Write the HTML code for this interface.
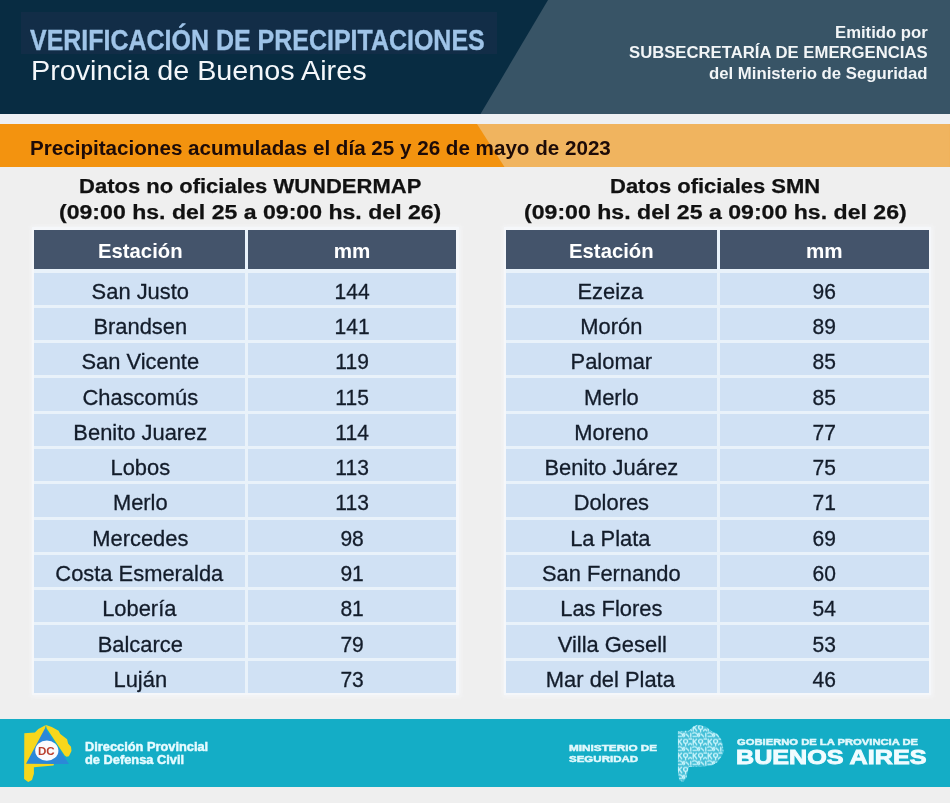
<!DOCTYPE html>
<html lang="es">
<head>
<meta charset="utf-8">
<title>Verificación de precipitaciones - Provincia de Buenos Aires</title>
<style>
html,body{margin:0;padding:0;background:#efefef;}
#page{position:relative;width:950px;height:803px;overflow:hidden;background:#efefef;font-family:'Liberation Sans',sans-serif;}
#page header,#page section,#page footer,#page div,#page svg,#page h2{position:absolute;margin:0;padding:0;}
.t{position:absolute;margin:0;padding:0;white-space:nowrap;line-height:1;font-weight:700;transform-origin:0 0;}
header{left:0;top:0;width:950px;height:114px;background:#082c42;}
header .hl{left:21px;top:12px;width:476px;height:42px;background:#122d47;}
.ttl{color:#9fc4e8;-webkit-text-stroke:0.35px #9fc4e8;}
.sub{color:#f4f7fa;font-weight:400;}
.em{color:#f2f5f7;}
.strip{left:0;top:114px;width:950px;height:9.6px;background:#eef0f3;}
.banner{left:0;top:123.6px;width:950px;height:43.8px;background:#f3930f;}
.ora{color:#1d0b08;}
.tbl h2{left:0;top:0;width:100%;height:56px;font-size:21.1px;}
.tt{color:#111;-webkit-text-stroke:0.25px #111;}
.halo{background:#f5f7fa;box-shadow:0 0 4px 1.5px #f4f5f7;}
.grid{left:0;width:100%;background:#e9f2fa;}
.row{left:0;width:100%;height:32.28px;}
.cell{top:0;height:100%;background:#d0e1f4;}
.head .cell{background:#44546b;}
.v{position:absolute;width:100%;text-align:center;white-space:nowrap;line-height:1;}
.s,.n{font-size:22.0px;color:#131c2a;-webkit-text-stroke:0.3px #131c2a;}
.s{transform:scaleX(0.995);}
.n{transform:scaleX(0.955);}
.h1,.h2{font-size:19.8px;font-weight:700;color:#fff;}
.h1{transform:scaleX(1.0253);}
.h2{transform:scaleX(1.0420);}
footer{left:0;top:719.3px;width:950px;height:67.8px;background:#14adc6;}
.f1{color:#e6fbff;-webkit-text-stroke:0.45px #e6fbff;}
.f3{color:#e0f8fc;-webkit-text-stroke:0.5px #e0f8fc;}
.f6{color:#f0fcff;-webkit-text-stroke:0.9px #f0fcff;}
.dc{color:#b93e2d;}
</style>
</head>
<body>
<div id="page">
<header>
<div class="hl"></div>
<svg style="left:0;top:0" width="950" height="114" viewBox="0 0 950 114"><polygon points="548,0 950,0 950,114 480.5,114" fill="#385466"/></svg>
<h1 class="t ttl" style="left:30.00px;top:25.10px;font-size:29.4px;transform:scaleX(0.8498)">VERIFICACIÓN DE PRECIPITACIONES</h1>
<p class="t sub" style="left:31.09px;top:56.50px;font-size:27.2px;transform:scaleX(1.0573)">Provincia de Buenos Aires</p>
<p class="t em" style="left:834.73px;top:24.70px;font-size:15.6px;transform:scaleX(1.0706)">Emitido por</p>
<p class="t em" style="left:628.60px;top:44.90px;font-size:15.6px;transform:scaleX(1.0704)">SUBSECRETARÍA DE EMERGENCIAS</p>
<p class="t em" style="left:709.40px;top:65.80px;font-size:15.6px;transform:scaleX(1.0734)">del Ministerio de Seguridad</p>
</header>
<div class="strip"></div>
<div class="banner">
<svg style="left:0;top:0" width="950" height="43.8" viewBox="0 0 950 43.8"><polygon points="477,0 950,0 950,43.8 505,43.8" fill="#f0b45f"/></svg>
<p class="t ora" style="left:29.68px;top:14.00px;font-size:20.3px;transform:scaleX(1.0162)">Precipitaciones acumuladas el día 25 y 26 de mayo de 2023</p>
</div>
<section class="tbl" id="tabla1" style="left:34px;top:172.0px;width:422.2px;height:522.5px">
<h2><span class="t tt" style="left:45.46px;top:2.50px;font-size:21.1px;transform:scaleX(1.0431)">Datos no oficiales WUNDERMAP</span><span class="t tt" style="left:25.41px;top:29.40px;font-size:21.1px;transform:scaleX(1.0942)">(09:00 hs. del 25 a 09:00 hs. del 26)</span></h2>
<div class="halo" style="left:-2.5px;top:55.1px;width:427.2px;height:468.4px"></div>
<div class="grid" style="top:57.6px;height:463.4px">
<div class="row head" style="top:0;height:39.2px"><div class="cell" style="left:0;width:210.6px"><span class="v h1" style="top:12.30px;left:1.24px">Estación</span></div><div class="cell" style="left:214.0px;width:208.2px"><span class="v h2" style="top:12.30px;left:0.09px">mm</span></div></div>
<div class="row" style="top:43.00px"><div class="cell" style="left:0;width:210.6px"><span class="v s" style="top:8.20px;left:0.82px">San Justo</span></div><div class="cell" style="left:214.0px;width:208.2px"><span class="v n" style="top:8.20px;left:-0.07px">144</span></div></div>
<div class="row" style="top:78.28px"><div class="cell" style="left:0;width:210.6px"><span class="v s" style="top:8.20px;left:1.32px">Brandsen</span></div><div class="cell" style="left:214.0px;width:208.2px"><span class="v n" style="top:8.20px;left:-0.07px">141</span></div></div>
<div class="row" style="top:113.56px"><div class="cell" style="left:0;width:210.6px"><span class="v s" style="top:8.20px;left:0.82px">San Vicente</span></div><div class="cell" style="left:214.0px;width:208.2px"><span class="v n" style="top:8.20px;left:-0.07px">119</span></div></div>
<div class="row" style="top:148.84px"><div class="cell" style="left:0;width:210.6px"><span class="v s" style="top:8.20px;left:0.70px">Chascomús</span></div><div class="cell" style="left:214.0px;width:208.2px"><span class="v n" style="top:8.20px;left:-0.07px">115</span></div></div>
<div class="row" style="top:184.12px"><div class="cell" style="left:0;width:210.6px"><span class="v s" style="top:8.20px;left:1.20px">Benito Juarez</span></div><div class="cell" style="left:214.0px;width:208.2px"><span class="v n" style="top:8.20px;left:-0.07px">114</span></div></div>
<div class="row" style="top:219.40px"><div class="cell" style="left:0;width:210.6px"><span class="v s" style="top:8.20px;left:0.70px">Lobos</span></div><div class="cell" style="left:214.0px;width:208.2px"><span class="v n" style="top:8.20px;left:-0.07px">113</span></div></div>
<div class="row" style="top:254.68px"><div class="cell" style="left:0;width:210.6px"><span class="v s" style="top:8.20px;left:0.82px">Merlo</span></div><div class="cell" style="left:214.0px;width:208.2px"><span class="v n" style="top:8.20px;left:-0.07px">113</span></div></div>
<div class="row" style="top:289.96px"><div class="cell" style="left:0;width:210.6px"><span class="v s" style="top:8.20px;left:0.70px">Mercedes</span></div><div class="cell" style="left:214.0px;width:208.2px"><span class="v n" style="top:8.20px;left:-0.07px">98</span></div></div>
<div class="row" style="top:325.24px"><div class="cell" style="left:0;width:210.6px"><span class="v s" style="top:8.20px;left:0.32px">Costa Esmeralda</span></div><div class="cell" style="left:214.0px;width:208.2px"><span class="v n" style="top:8.20px;left:-0.07px">91</span></div></div>
<div class="row" style="top:360.52px"><div class="cell" style="left:0;width:210.6px"><span class="v s" style="top:8.20px;left:0.32px">Lobería</span></div><div class="cell" style="left:214.0px;width:208.2px"><span class="v n" style="top:8.20px;left:0.41px">81</span></div></div>
<div class="row" style="top:395.80px"><div class="cell" style="left:0;width:210.6px"><span class="v s" style="top:8.20px;left:0.82px">Balcarce</span></div><div class="cell" style="left:214.0px;width:208.2px"><span class="v n" style="top:8.20px;left:-0.07px">79</span></div></div>
<div class="row" style="top:431.08px"><div class="cell" style="left:0;width:210.6px"><span class="v s" style="top:8.20px;left:1.32px">Luján</span></div><div class="cell" style="left:214.0px;width:208.2px"><span class="v n" style="top:8.20px;left:-0.07px">73</span></div></div>
</div></section>
<section class="tbl" id="tabla2" style="left:506.1px;top:172.0px;width:422.6px;height:522.5px">
<h2><span class="t tt" style="left:104.06px;top:2.50px;font-size:21.1px;transform:scaleX(1.0427)">Datos oficiales SMN</span><span class="t tt" style="left:18.10px;top:29.40px;font-size:21.1px;transform:scaleX(1.0954)">(09:00 hs. del 25 a 09:00 hs. del 26)</span></h2>
<div class="halo" style="left:-2.5px;top:55.1px;width:427.6px;height:468.4px"></div>
<div class="grid" style="top:57.6px;height:463.4px">
<div class="row head" style="top:0;height:39.2px"><div class="cell" style="left:0;width:210.7px"><span class="v h1" style="top:12.30px;left:0.09px">Estación</span></div><div class="cell" style="left:214.0px;width:208.6px"><span class="v h2" style="top:12.30px;left:-0.41px">mm</span></div></div>
<div class="row" style="top:43.00px"><div class="cell" style="left:0;width:210.7px"><span class="v s" style="top:8.20px;left:-0.83px">Ezeiza</span></div><div class="cell" style="left:214.0px;width:208.6px"><span class="v n" style="top:8.20px;left:-0.57px">96</span></div></div>
<div class="row" style="top:78.28px"><div class="cell" style="left:0;width:210.7px"><span class="v s" style="top:8.20px;left:0.17px">Morón</span></div><div class="cell" style="left:214.0px;width:208.6px"><span class="v n" style="top:8.20px;left:-0.09px">89</span></div></div>
<div class="row" style="top:113.56px"><div class="cell" style="left:0;width:210.7px"><span class="v s" style="top:8.20px;left:-0.29px">Palomar</span></div><div class="cell" style="left:214.0px;width:208.6px"><span class="v n" style="top:8.20px;left:-0.09px">85</span></div></div>
<div class="row" style="top:148.84px"><div class="cell" style="left:0;width:210.7px"><span class="v s" style="top:8.20px;left:-0.33px">Merlo</span></div><div class="cell" style="left:214.0px;width:208.6px"><span class="v n" style="top:8.20px;left:-0.09px">85</span></div></div>
<div class="row" style="top:184.12px"><div class="cell" style="left:0;width:210.7px"><span class="v s" style="top:8.20px;left:-0.33px">Moreno</span></div><div class="cell" style="left:214.0px;width:208.6px"><span class="v n" style="top:8.20px;left:-0.57px">77</span></div></div>
<div class="row" style="top:219.40px"><div class="cell" style="left:0;width:210.7px"><span class="v s" style="top:8.20px;left:0.05px">Benito Juárez</span></div><div class="cell" style="left:214.0px;width:208.6px"><span class="v n" style="top:8.20px;left:-0.57px">75</span></div></div>
<div class="row" style="top:254.68px"><div class="cell" style="left:0;width:210.7px"><span class="v s" style="top:8.20px;left:-0.45px">Dolores</span></div><div class="cell" style="left:214.0px;width:208.6px"><span class="v n" style="top:8.20px;left:-0.57px">71</span></div></div>
<div class="row" style="top:289.96px"><div class="cell" style="left:0;width:210.7px"><span class="v s" style="top:8.20px;left:-0.83px">La Plata</span></div><div class="cell" style="left:214.0px;width:208.6px"><span class="v n" style="top:8.20px;left:-0.57px">69</span></div></div>
<div class="row" style="top:325.24px"><div class="cell" style="left:0;width:210.7px"><span class="v s" style="top:8.20px;left:-0.33px">San Fernando</span></div><div class="cell" style="left:214.0px;width:208.6px"><span class="v n" style="top:8.20px;left:-0.57px">60</span></div></div>
<div class="row" style="top:360.52px"><div class="cell" style="left:0;width:210.7px"><span class="v s" style="top:8.20px;left:-0.45px">Las Flores</span></div><div class="cell" style="left:214.0px;width:208.6px"><span class="v n" style="top:8.20px;left:-0.09px">54</span></div></div>
<div class="row" style="top:395.80px"><div class="cell" style="left:0;width:210.7px"><span class="v s" style="top:8.20px;left:0.49px">Villa Gesell</span></div><div class="cell" style="left:214.0px;width:208.6px"><span class="v n" style="top:8.20px;left:-0.09px">53</span></div></div>
<div class="row" style="top:431.08px"><div class="cell" style="left:0;width:210.7px"><span class="v s" style="top:8.20px;left:-0.83px">Mar del Plata</span></div><div class="cell" style="left:214.0px;width:208.6px"><span class="v n" style="top:8.20px;left:-0.09px">46</span></div></div>
</div></section>
<footer>
<svg class="logo-dc" style="left:0;top:0" width="100" height="67.8" viewBox="0 0 100 67.8">
<polygon points="44.9,9.1 26.0,44.9 69.0,44.9" fill="#2b88d8"/>
<polygon points="45.9,5.9 38.3,10.0 34.9,13.4 24.3,14.2 24.1,59.9 28.2,63.1 32.0,60.9 33.9,54.8 33.9,48.2 53.5,46.4 54.0,44.9 26.0,44.7 44.9,9.6" fill="#f7d71c"/>
<polygon points="45.9,5.9 51.8,8.1 58.6,11.7 60.3,15.1 67.1,20.2 68.1,24.4 71.0,27.8 71.5,32.0 68.9,37.2 66.6,37.8 64.7,36.4 46.6,9.3" fill="#f7d71c"/>
<ellipse cx="46.8" cy="31.6" rx="11.6" ry="10.2" fill="#fbfbfd"/>
</svg>
<svg class="logo-ba" style="left:670px;top:0" width="60" height="67.8" viewBox="670 0 60 67.8">
<defs>
<clipPath id="baclip"><polygon points="677.9,12.1 688.9,11.7 693.2,7.5 697.4,5.8 705.8,7.5 710.9,11.7 717.7,15.1 721.1,20.2 722.8,26.1 723.6,32.8 721.1,37.9 717.7,43.0 711.8,46.4 699.9,47.7 688.9,48.1 687.7,53.2 686.4,59.1 683.0,62.9 679.2,61.2 677.9,51.5"/></clipPath>
<pattern id="pic" x="677" y="4.7" width="15" height="14" patternUnits="userSpaceOnUse">
<g fill="none" stroke="#c9f4fb" stroke-width="1.35" stroke-linecap="round" stroke-linejoin="round">
<path d="M1.2 1.5 V7 M1.2 4.6 L4.6 1.5 M2.4 3.8 L4.8 7"/>
<circle cx="8.6" cy="3.6" r="2"/><path d="M8.6 5.6 V8"/>
<path d="M11.5 7 q1.8 -2.6 3.2 0 M12 1.2 h2.6"/>
<path d="M0.8 9.6 q1.6 -1.6 3.2 0 t3.2 0"/>
<path d="M1 12.6 h3.4 M9 10.2 l2.6 2.6 M13.8 9.6 v3.4"/>
<circle cx="6.6" cy="11.8" r="1.1"/>
</g>
</pattern></defs>
<g clip-path="url(#baclip)"><rect x="670" y="0" width="60" height="67.8" fill="#45bfd7"/><rect x="670" y="0" width="60" height="67.8" fill="url(#pic)"/></g>
</svg>
<span class="t f1" style="left:84.50px;top:21.50px;font-size:12.0px;transform:scaleX(1.0674)">Dirección Provincial</span>
<span class="t f1" style="left:84.50px;top:34.30px;font-size:12.0px;transform:scaleX(1.0686)">de Defensa Civil</span>
<span class="t f3" style="left:568.90px;top:23.30px;font-size:9.8px;transform:scaleX(1.1995)">MINISTERIO DE</span>
<span class="t f3" style="left:568.90px;top:34.80px;font-size:9.8px;transform:scaleX(1.1752)">SEGURIDAD</span>
<span class="t f3" style="left:736.80px;top:18.00px;font-size:9.4px;transform:scaleX(1.1960)">GOBIERNO DE LA PROVINCIA DE</span>
<span class="t f6" style="left:735.97px;top:28.00px;font-size:20.5px;transform:scaleX(1.2262)">BUENOS AIRES</span>
<span class="t dc" style="left:38.30px;top:26.40px;font-size:10.6px;transform:scaleX(1.0926)">DC</span>
</footer>
</div>
</body>
</html>
